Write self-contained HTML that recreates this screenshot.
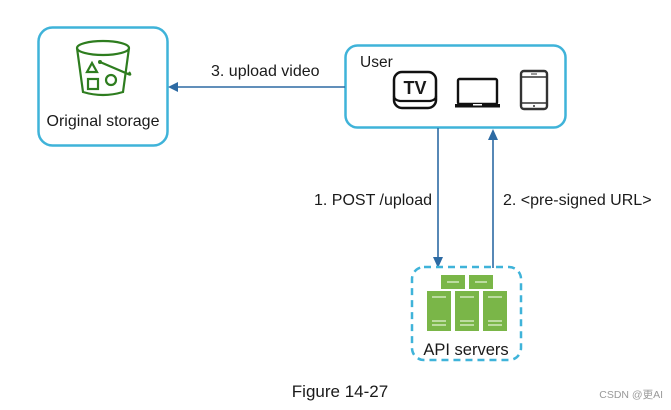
<!DOCTYPE html>
<html><head><meta charset="utf-8"><style>
html,body{margin:0;padding:0;background:#fff;}
svg{display:block;}
text{font-family:"Liberation Sans",Arial,sans-serif;fill:#1a1a1a;}
</style></head><body>
<svg width="671" height="410" viewBox="0 0 671 410" xmlns="http://www.w3.org/2000/svg">
<rect width="671" height="410" fill="#fff"/>
<rect x="38.5" y="27.5" width="129" height="118" rx="14" fill="#fff" stroke="#3fb3d9" stroke-width="2.5"/>
<g fill="none" stroke="#2e7d1f" stroke-width="2.2">
<ellipse cx="103" cy="48" rx="26" ry="7"/>
<path d="M77 48 L83 92 Q103 98 123 92 L129 48"/>
<path d="M87 72 L92 63 L97 72 Z"/>
<rect x="88" y="79" width="10" height="10"/>
<circle cx="111" cy="80" r="5"/>
<path d="M100 62 L128 74 Q132 76 129 72"/>
</g>
<circle cx="100" cy="62" r="2" fill="#2e7d1f"/>
<text x="103" y="126" font-size="16" text-anchor="middle">Original storage</text>
<rect x="345.5" y="45.5" width="220" height="82" rx="12" fill="#fff" stroke="#3fb3d9" stroke-width="2.5"/>
<text x="360" y="67" font-size="15.5">User</text>
<rect x="394" y="72" width="42" height="36" rx="8" fill="#fff" stroke="#111" stroke-width="2.5"/>
<path d="M394 96 Q394 100 400 101 L430 101 Q436 100 436 96" fill="none" stroke="#111" stroke-width="2.2"/>
<text x="415" y="94" font-size="18" text-anchor="middle" fill="#111" font-weight="bold">TV</text>
<rect x="458" y="79" width="39" height="25" rx="1.5" fill="none" stroke="#111" stroke-width="2.4"/>
<rect x="455" y="104" width="45" height="3.5" fill="#111"/>
<rect x="473" y="104" width="9" height="1.5" fill="#fff"/>
<rect x="521" y="71" width="26" height="38" rx="3" fill="none" stroke="#333" stroke-width="2.4"/>
<line x1="521" y1="77" x2="547" y2="77" stroke="#333" stroke-width="1.5"/>
<line x1="521" y1="103" x2="547" y2="103" stroke="#333" stroke-width="1.5"/>
<line x1="531" y1="74" x2="537" y2="74" stroke="#333" stroke-width="1"/>
<circle cx="534" cy="106" r="1" fill="#333"/>
<line x1="345" y1="87" x2="176" y2="87" stroke="#2d6aa3" stroke-width="1.6"/>
<path d="M168 87 L178 82 L178 92 Z" fill="#2d6aa3"/>
<text x="211" y="76" font-size="16">3. upload video</text>
<line x1="438" y1="128" x2="438" y2="259" stroke="#2d6aa3" stroke-width="1.6"/>
<path d="M438 268 L433 257 L443 257 Z" fill="#2d6aa3"/>
<text x="432" y="205" font-size="16" text-anchor="end">1. POST /upload</text>
<line x1="493" y1="268" x2="493" y2="138" stroke="#2d6aa3" stroke-width="1.6"/>
<path d="M493 129 L488 140 L498 140 Z" fill="#2d6aa3"/>
<text x="503" y="205" font-size="16">2. &lt;pre-signed URL&gt;</text>
<rect x="412" y="267" width="109" height="93" rx="12" fill="none" stroke="#3fb3d9" stroke-width="2.5" stroke-dasharray="7,5"/>
<g fill="#7ab648">
<rect x="441" y="275" width="24" height="14"/>
<rect x="469" y="275" width="24" height="14"/>
<rect x="427" y="291" width="24" height="40"/>
<rect x="455" y="291" width="24" height="40"/>
<rect x="483" y="291" width="24" height="40"/>
</g>
<g stroke="#dff0cf" stroke-width="1.3">
<line x1="447" y1="282" x2="459" y2="282"/><line x1="475" y1="282" x2="487" y2="282"/>
<line x1="432" y1="297" x2="446" y2="297"/><line x1="460" y1="297" x2="474" y2="297"/><line x1="488" y1="297" x2="502" y2="297"/>
<line x1="432" y1="321" x2="446" y2="321"/><line x1="460" y1="321" x2="474" y2="321"/><line x1="488" y1="321" x2="502" y2="321"/>
<line x1="432" y1="325" x2="446" y2="325"/><line x1="460" y1="325" x2="474" y2="325"/><line x1="488" y1="325" x2="502" y2="325"/>
</g>
<text x="466" y="355" font-size="16.5" text-anchor="middle">API servers</text>
<text x="340" y="397" font-size="17" text-anchor="middle">Figure 14-27</text>
<text x="663" y="398" font-size="10.5" text-anchor="end" style="fill:#999;font-family:'Liberation Sans','Noto Sans CJK SC',sans-serif">CSDN @更AI</text>
</svg>
</body></html>
